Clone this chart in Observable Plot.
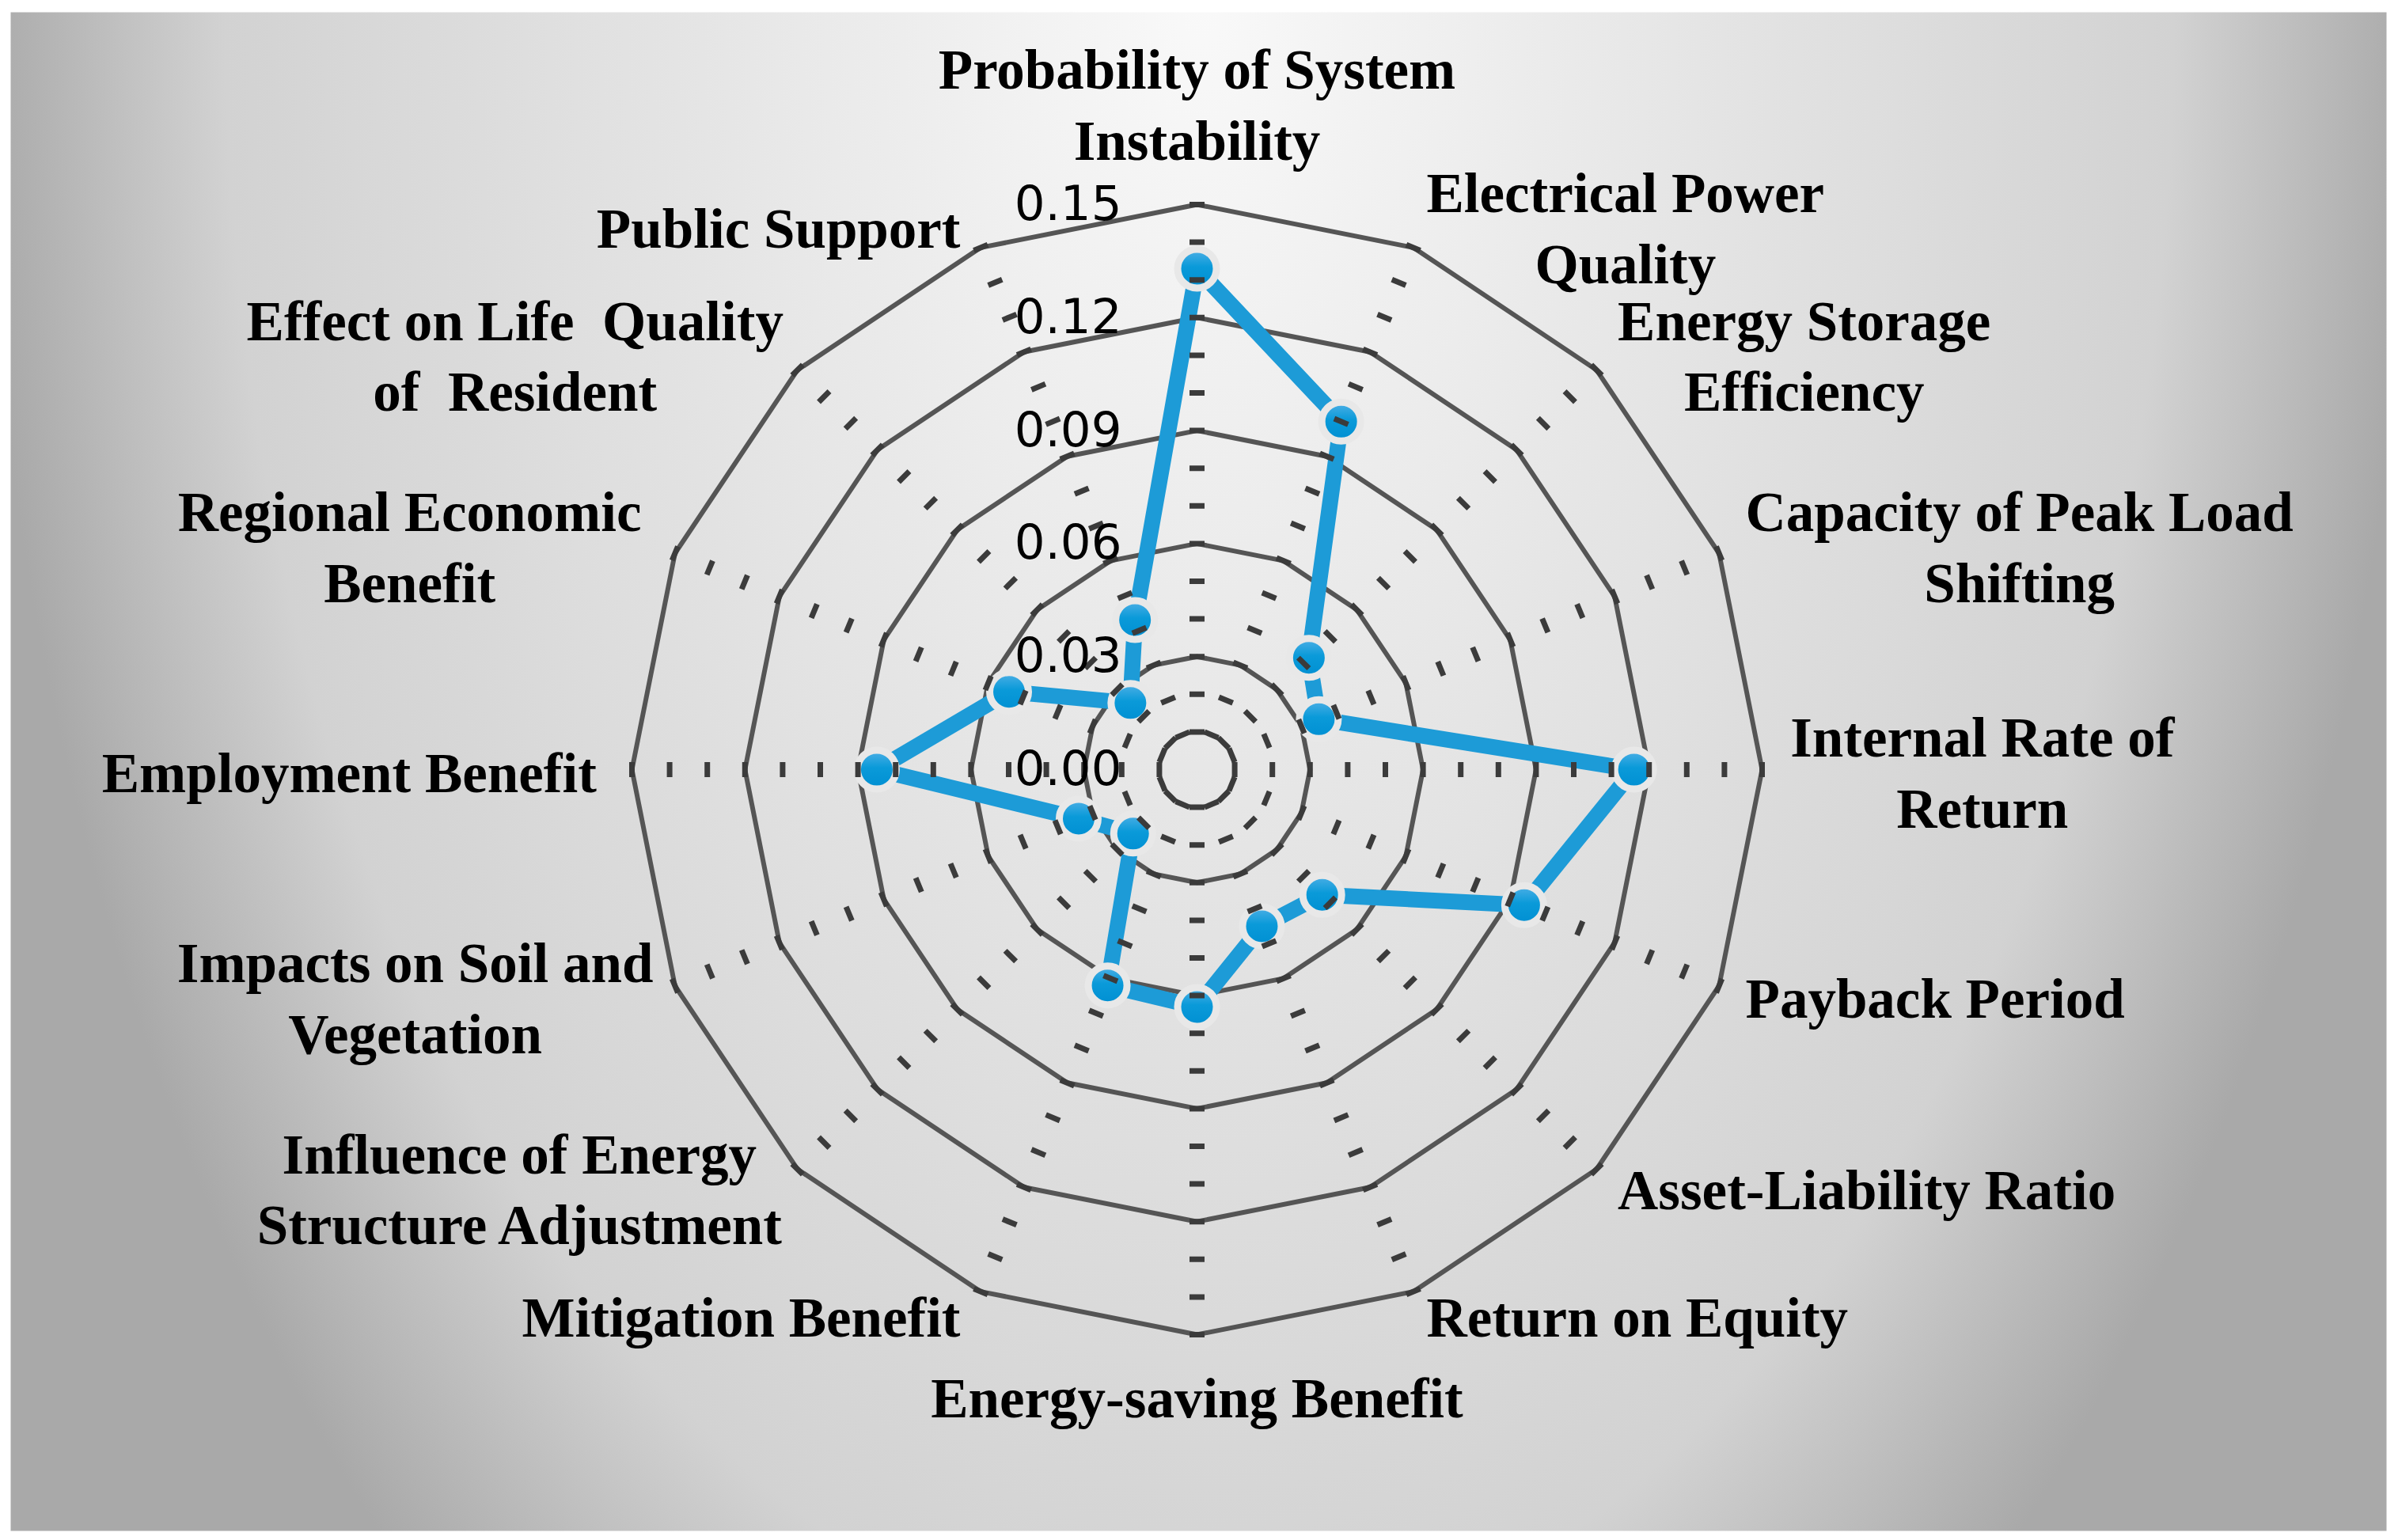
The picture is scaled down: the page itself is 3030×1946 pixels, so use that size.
<!DOCTYPE html>
<html>
<head>
<meta charset="utf-8">
<script src="https://cdn.jsdelivr.net/npm/d3@7"></script>
<script src="https://cdn.jsdelivr.net/npm/@observablehq/plot@0.6"></script>
<style>
  html, body { margin: 0; padding: 0; background: #ffffff; }
  #chart { width: 3030px; height: 1946px; }
  svg text { white-space: pre; }
</style>
</head>
<body>
<svg width="0" height="0" style="position:absolute">
  <defs>
    <radialGradient id="bg" gradientUnits="userSpaceOnUse" cx="1515" cy="0" r="1540"
                    gradientTransform="translate(1515,0) scale(1,1.7) translate(-1515,0)">
      <stop offset="0" stop-color="#f9f9f9"/>
      <stop offset="0.8" stop-color="#d2d2d2"/>
      <stop offset="1" stop-color="#a9a9a9"/>
    </radialGradient>
    <linearGradient id="mk" x1="0" y1="0" x2="0" y2="1">
      <stop offset="0" stop-color="#4fb0e6"/>
      <stop offset="0.45" stop-color="#0a9ad9"/>
      <stop offset="1" stop-color="#008fd2"/>
    </linearGradient>
  </defs>
</svg>
<div id="chart"></div>
<script>
// ---------------- data ----------------
const categories = [
  "Probability of System Instability",
  "Electrical Power Quality",
  "Energy Storage Efficiency",
  "Capacity of Peak Load Shifting",
  "Internal Rate of Return",
  "Payback Period",
  "Asset-Liability Ratio",
  "Return on Equity",
  "Energy-saving Benefit",
  "Mitigation Benefit",
  "Influence of Energy Structure Adjustment",
  "Impacts on Soil and Vegetation",
  "Employment Benefit",
  "Regional Economic Benefit",
  "Effect on Life Quality of Resident",
  "Public Support"
];
const categoryLabels = [
  "Probability of System\nInstability",
  "Electrical Power\nQuality",
  "Energy Storage\nEfficiency",
  "Capacity of Peak Load\nShifting",
  "Internal Rate of\nReturn",
  "Payback Period",
  "Asset-Liability Ratio",
  "Return on Equity",
  "Energy-saving Benefit",
  "Mitigation Benefit",
  "Influence of Energy\nStructure Adjustment",
  "Impacts on Soil and\nVegetation",
  "Employment Benefit",
  "Regional Economic\nBenefit",
  "Effect on Life  Quality\nof  Resident",
  "Public Support"
];
const weights = [0.133, 0.100, 0.042, 0.035, 0.116, 0.094, 0.047, 0.045,
                 0.063, 0.062, 0.024, 0.034, 0.085, 0.054, 0.025, 0.043];
const ringLevels = [0.03, 0.06, 0.09, 0.12, 0.15];
const tickValues = [0, 0.03, 0.06, 0.09, 0.12, 0.15];
const tickLabels = ["0.00", "0.03", "0.06", "0.09", "0.12", "0.15"];

// ---------------- layout ----------------
const W = 3030, H = 1946;
const CX = 1512, CY = 972;     // chart centre in px
const PX = 4760;               // px per value unit (0.01 -> 47.6 px)
const rMax = 0.15;
const n = categories.length;
const theta = i => i * 2 * Math.PI / n;
const polar = (r, i) => ({x: r * Math.sin(theta(i)), y: r * Math.cos(theta(i))});

const series = weights.map((v, i) => ({cat: categories[i], v, ...polar(v, i)}));
const rings = ringLevels.flatMap(l => categories.map((c, i) => ({level: l, ...polar(l, i)})));
const dashStart = 0.01 - 3.5 / PX;
const spokes = categories.map((c, i) => {
  const a = polar(dashStart, i), b = polar(rMax + 4 / PX, i);
  return {x1: a.x, y1: a.y, x2: b.x, y2: b.y};
});
const ticks = tickValues.map((v, i) => ({v, label: tickLabels[i]}));

// label placement (measure text widths for box-edge anchoring)
const LABEL_FONT_SIZE = 71;
const ctx = document.createElement("canvas").getContext("2d");
ctx.font = `bold ${LABEL_FONT_SIZE}px "Liberation Serif"`;
const Lr = rMax * 1.043;
const leftGap = i => ({10: -4, 11: -1, 14: -4}[i] ?? 14);
const labels = categoryLabels.map((t, i) => {
  const s = Math.sin(theta(i)), c = Math.cos(theta(i));
  const w = Math.max(...t.split("\n").map(l => ctx.measureText(l).width));
  const p = polar(Lr, i);
  let x = p.x, group;
  if (s > 0.01) { x += (w / 2 + 5) / PX; group = "middle"; }
  else if (s < -0.01) { x -= (w / 2 + leftGap(i)) / PX; group = "middle"; }
  else group = c > 0 ? "bottom" : "top";
  return {text: t, x, y: p.y, group};
});

const labelStyle = {
  text: "text", x: "x", y: "y", textAnchor: "middle",
  fontFamily: "Liberation Serif", fontWeight: "bold", fontSize: LABEL_FONT_SIZE,
  lineHeight: 1.26, fill: "#000"
};

const chart = Plot.plot({
  width: W, height: H,
  margin: 0,
  x: {domain: [-CX / PX, (W - CX) / PX], axis: null},
  y: {domain: [-(H - CY) / PX, CY / PX], axis: null},
  style: {background: "transparent", overflow: "visible"},
  marks: [
    Plot.frame({fill: "url(#bg)", stroke: null, insetLeft: 13, insetTop: 15, insetRight: 15, insetBottom: 12}),
    Plot.line(rings, {x: "x", y: "y", z: "level", curve: "linear-closed",
      stroke: "#555555", strokeWidth: 6, strokeLinejoin: "miter"}),
    Plot.line(series, {x: "x", y: "y", curve: "linear-closed",
      stroke: "#1d9bd7", strokeWidth: 20, strokeLinejoin: "round"}),
    Plot.dot(series, {x: "x", y: "y", r: 24.5, fill: "url(#mk)", stroke: "#e8e8e8", strokeWidth: 9}),
    Plot.link(spokes, {x1: "x1", y1: "y1", x2: "x2", y2: "y2",
      stroke: "#3b3b3b", strokeWidth: 19, strokeLinecap: "butt", strokeDasharray: "7,40.6"}),
    Plot.text(ticks, {x: d => 0, y: "v", text: "label", dx: -95, textAnchor: "end",
      lineAnchor: "middle", fontFamily: "DejaVu Sans", fontSize: 61, fill: "#000"}),
    Plot.text(labels.filter(d => d.group === "middle"), {...labelStyle, lineAnchor: "middle"}),
    Plot.text(labels.filter(d => d.group === "bottom"), {...labelStyle, lineAnchor: "bottom", dy: -26}),
    Plot.text(labels.filter(d => d.group === "top"), {...labelStyle, lineAnchor: "top", dy: 10})
  ]
});
document.getElementById("chart").appendChild(chart);
</script>
</body>
</html>
